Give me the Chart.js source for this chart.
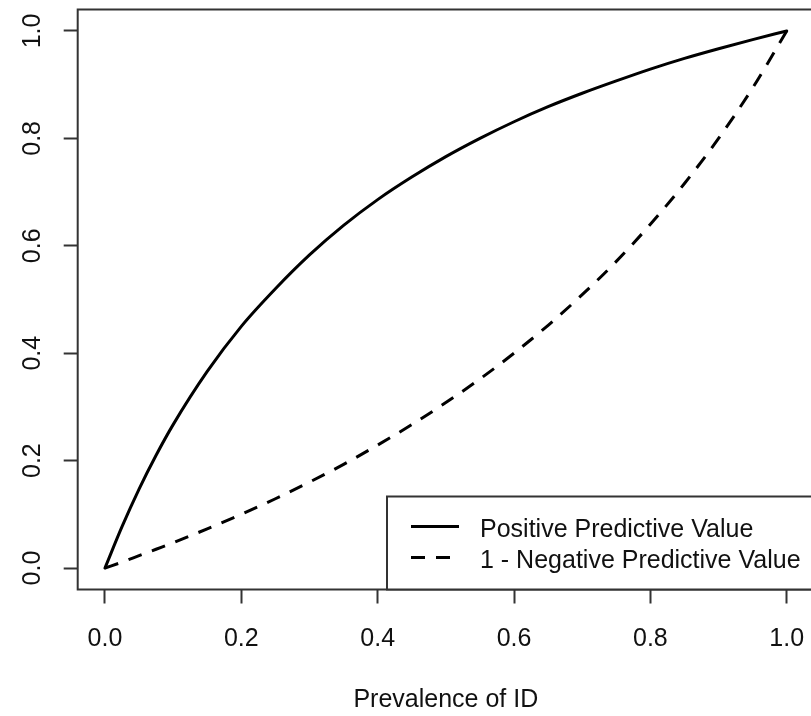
<!DOCTYPE html>
<html>
<head>
<meta charset="utf-8">
<script src="https://cdn.jsdelivr.net/npm/chart.js@4.4.1/dist/chart.umd.min.js"></script>
<style>
  html, body { margin: 0; padding: 0; overflow: hidden; background: #fff; }
  #wrap { width: 814px; height: 716px; }
</style>
</head>
<body>
<div id="wrap"><canvas id="ppvChart"></canvas></div>
<script>
const prevalence = [0, 0.025, 0.05, 0.075, 0.1, 0.15, 0.2, 0.25, 0.3, 0.35, 0.4, 0.45,
                    0.5, 0.55, 0.6, 0.65, 0.7, 0.75, 0.8, 0.85, 0.9, 0.95, 1.0];
const ppv = [0, 0.077, 0.147, 0.21, 0.267, 0.366, 0.45, 0.52, 0.583, 0.638, 0.686, 0.728,
             0.766, 0.80, 0.831, 0.859, 0.884, 0.907, 0.929, 0.949, 0.967, 0.984, 1.0];
const oneMinusNpv = [0, 0.011, 0.023, 0.035, 0.047, 0.073, 0.10, 0.129, 0.16, 0.193, 0.229, 0.267,
                     0.308, 0.352, 0.40, 0.452, 0.509, 0.571, 0.64, 0.716, 0.80, 0.894, 1.0];
const xTicks = [0, 0.2, 0.4, 0.6, 0.8, 1.0];
const yTicks = [0, 0.2, 0.4, 0.6, 0.8, 1.0];
const seriesNames = ["Positive Predictive Value", "1 - Negative Predictive Value"];
const xTitle = "Prevalence of ID";

const FONT = '"Liberation Sans", Arial, sans-serif';
const INK = '#111';
const FRAME = '#333';

function toPoints(ys){
    return prevalence.map((x, i) => ({ x: x, y: ys[i] }));
}

// R-style box around the plot plus the bottomright legend
const boxAndLegend = {
    id: 'boxAndLegend',
    afterDraw(chart){
        const { ctx, chartArea: a } = chart;
        ctx.save();
        ctx.strokeStyle = FRAME;
        ctx.lineWidth = 2;
        ctx.strokeRect(a.left, a.top, a.right - a.left, a.bottom - a.top);

        const bx = a.right - 427, by = a.bottom - 93;
        ctx.fillStyle = '#fff';
        ctx.fillRect(bx, by, a.right - bx, a.bottom - by);
        ctx.strokeRect(bx, by, a.right - bx, a.bottom - by);

        ctx.font = '25px ' + FONT;
        ctx.textBaseline = 'middle';
        chart.data.datasets.forEach((ds, i) => {
            const y = by + 30 + i * 31;
            ctx.beginPath();
            ctx.setLineDash(ds.borderDash || []);
            ctx.lineWidth = ds.borderWidth;
            ctx.strokeStyle = ds.borderColor;
            ctx.moveTo(bx + 24, y);
            ctx.lineTo(bx + 72, y);
            ctx.stroke();
            ctx.setLineDash([]);
            ctx.fillStyle = INK;
            ctx.fillText(ds.label, bx + 93, y + 4);
        });
        ctx.restore();
    }
};

new Chart(document.getElementById('ppvChart'), {
    type: 'line',
    data: {
        datasets: [{
            label: seriesNames[0],
            data: toPoints(ppv),
            borderColor: '#000',
            borderWidth: 3,
            borderCapStyle: 'round',
            borderJoinStyle: 'round',
            cubicInterpolationMode: 'monotone',
            pointRadius: 0
        }, {
            label: seriesNames[1],
            data: toPoints(oneMinusNpv),
            borderColor: '#000',
            borderWidth: 3,
            borderDash: [14, 11],
            borderJoinStyle: 'round',
            cubicInterpolationMode: 'monotone',
            pointRadius: 0
        }]
    },
    options: {
        responsive: true,
        maintainAspectRatio: false,
        animation: false,
        layout: { padding: { top: 9.5, left: 0, right: 0, bottom: 0 } },
        plugins: {
            legend: { display: false },
            tooltip: { enabled: false }
        },
        scales: {
            x: {
                type: 'linear',
                min: -0.04,
                max: 1.04,
                afterBuildTicks: (s) => { s.ticks = xTicks.map(v => ({ value: v })); },
                afterFit: (s) => { s.height = 126.5; s.paddingLeft = 0; s.paddingRight = 0; },
                border: { display: false },
                grid: {
                    drawOnChartArea: false,
                    drawTicks: true,
                    tickLength: 14,
                    tickColor: FRAME,
                    tickWidth: 2
                },
                ticks: {
                    padding: 21,
                    maxRotation: 0,
                    color: INK,
                    font: { family: FONT, size: 25 },
                    callback: (v) => Number(v).toFixed(1)
                },
                title: {
                    display: true,
                    text: xTitle,
                    color: INK,
                    font: { family: FONT, size: 25 },
                    padding: { top: 0, bottom: 1 }
                }
            },
            y: {
                type: 'linear',
                min: -0.04,
                max: 1.04,
                afterBuildTicks: (s) => { s.ticks = yTicks.map(v => ({ value: v })); },
                afterFit: (s) => { s.width = 77.7; s.paddingTop = 0; s.paddingBottom = 0; },
                border: { display: false },
                grid: {
                    drawOnChartArea: false,
                    drawTicks: true,
                    tickLength: 14,
                    tickColor: FRAME,
                    tickWidth: 2
                },
                ticks: {
                    padding: 13.6,
                    minRotation: 90,
                    maxRotation: 90,
                    crossAlign: 'center',
                    color: INK,
                    font: { family: FONT, size: 25 },
                    callback: (v) => Number(v).toFixed(1)
                }
            }
        }
    },
    plugins: [boxAndLegend]
});
</script>
</body>
</html>
